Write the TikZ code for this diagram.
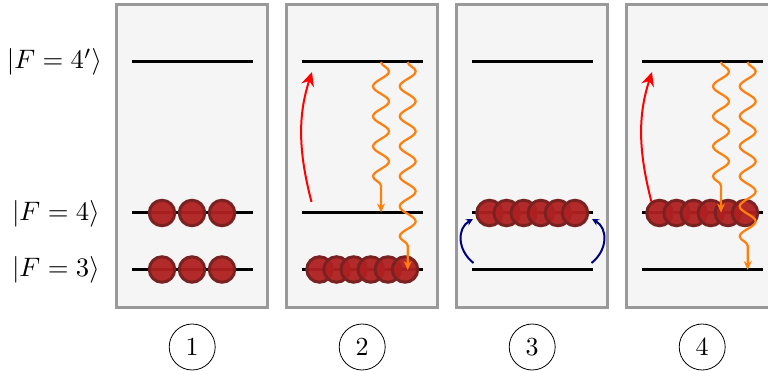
\documentclass[tikz,border=0pt]{standalone}
\usetikzlibrary{arrows.meta,decorations.pathmorphing}
\definecolor{boxfill}{HTML}{F5F5F5}
\definecolor{boxline}{HTML}{999999}
\definecolor{atomfill}{HTML}{B02020}
\definecolor{atomline}{HTML}{7A2222}
\definecolor{photon}{HTML}{FF7F0E}
\definecolor{repump}{HTML}{00007F}
\tikzset{
  panel/.style={draw=boxline,fill=boxfill,line width=3pt,minimum width=150.6pt,minimum height=302pt,inner sep=0pt,outer sep=0pt},
  level/.style={line width=3pt,black},
  atom/.style={circle,draw=atomline,fill=atomfill,fill opacity=.95,line width=3pt,minimum size=25.5pt,inner sep=0pt},
  statelabel/.style={anchor=east,inner sep=0pt,scale=2.67},
  stepmark/.style={circle,draw=black,line width=.8pt,minimum size=46pt,inner sep=0pt},
  steptext/.style={scale=2.6,inner sep=0pt},
  pump/.style={red,line width=2pt,-{Stealth[length=14pt,width=13pt]}},
  decay/.style={photon,line width=2.2pt,-{Stealth[length=9pt,width=8pt]},decorate,
    decoration={snake,segment length=30pt,amplitude=8pt,post length=#1,pre length=0pt}},
  backpump/.style={repump,line width=2pt,-{Stealth[length=7pt,width=7pt]}}
}
\begin{document}
\begin{tikzpicture}[x=1pt,y=-1pt]
\useasboundingbox (0,0) rectangle (768,371);
\foreach \n/\cx in {1/192.2,2/362.2,3/532.2,4/702.2}{
  \node[panel] (panel\n) at (\cx,156) {};
  \coordinate (a\n) at (\cx-60.2,61.5);   \coordinate (b\n) at (\cx+60.8,61.5);
  \coordinate (c\n) at (\cx-60.2,213);\coordinate (d\n) at (\cx+60.8,213);
  \coordinate (e\n) at (\cx-60.2,269.5);  \coordinate (f\n) at (\cx+60.8,269.5);
  \draw[level] (a\n) -- (b\n);
  \draw[level] (c\n) -- (d\n);
  \draw[level] (e\n) -- (f\n);
  \node[stepmark] (mark\n) at (\cx,347) {};
  \node[steptext] (num\n) at (mark\n.center) {\n};
}
\node[statelabel] (l4p) at (102.5,62) {$|F=4'\rangle$};
\node[statelabel] (l4) at (100.2,213.5) {$|F=4\rangle$};
\node[statelabel] (l3) at (100.2,270) {$|F=3\rangle$};
% panel 1 atoms
\foreach \x in {162,192,222}{
  \node[atom] (up\x) at (\x,213) {};
  \node[atom] (lo\x) at (\x,269.5) {};
}
% panel 2
\coordinate (rs2) at (311.5,202); \coordinate (rt2) at (312,72);
\draw[pump] (rs2) .. controls (298,150) and (298,115) .. (rt2);
\foreach \i in {0,...,5}{ \node[atom] (two\i) at (319.5+17.1*\i,269.5) {}; }
\coordinate (p2a) at (381,62); \coordinate (p2b) at (381,212.5);
\coordinate (p2c) at (407.7,62); \coordinate (p2d) at (407.7,270);
\draw[decay=24pt] (p2a) -- (p2b);
\draw[decay=12pt] (p2c) -- (p2d);
% panel 3
\foreach \i in {0,...,5}{ \node[atom] (three\i) at (489.5+17.1*\i,213) {}; }
\coordinate (bs1) at (473.5,263); \coordinate (bt1) at (473,219);
\coordinate (bs2) at (591.5,263); \coordinate (bt2) at (592,219);
\draw[backpump] (bs1) .. controls (457,250) and (457,228) .. (bt1);
\draw[backpump] (bs2) .. controls (608,250) and (608,228) .. (bt2);
% panel 4
\coordinate (rs4) at (651.5,202); \coordinate (rt4) at (652,72);
\draw[pump] (rs4) .. controls (638,150) and (638,115) .. (rt4);
\foreach \i in {0,...,5}{ \node[atom] (four\i) at (659.5+17.1*\i,213) {}; }
\coordinate (p4a) at (721,62); \coordinate (p4b) at (721,212.5);
\coordinate (p4c) at (747.7,62); \coordinate (p4d) at (747.7,270);
\draw[decay=24pt] (p4a) -- (p4b);
\draw[decay=12pt] (p4c) -- (p4d);
\end{tikzpicture}
\end{document}
